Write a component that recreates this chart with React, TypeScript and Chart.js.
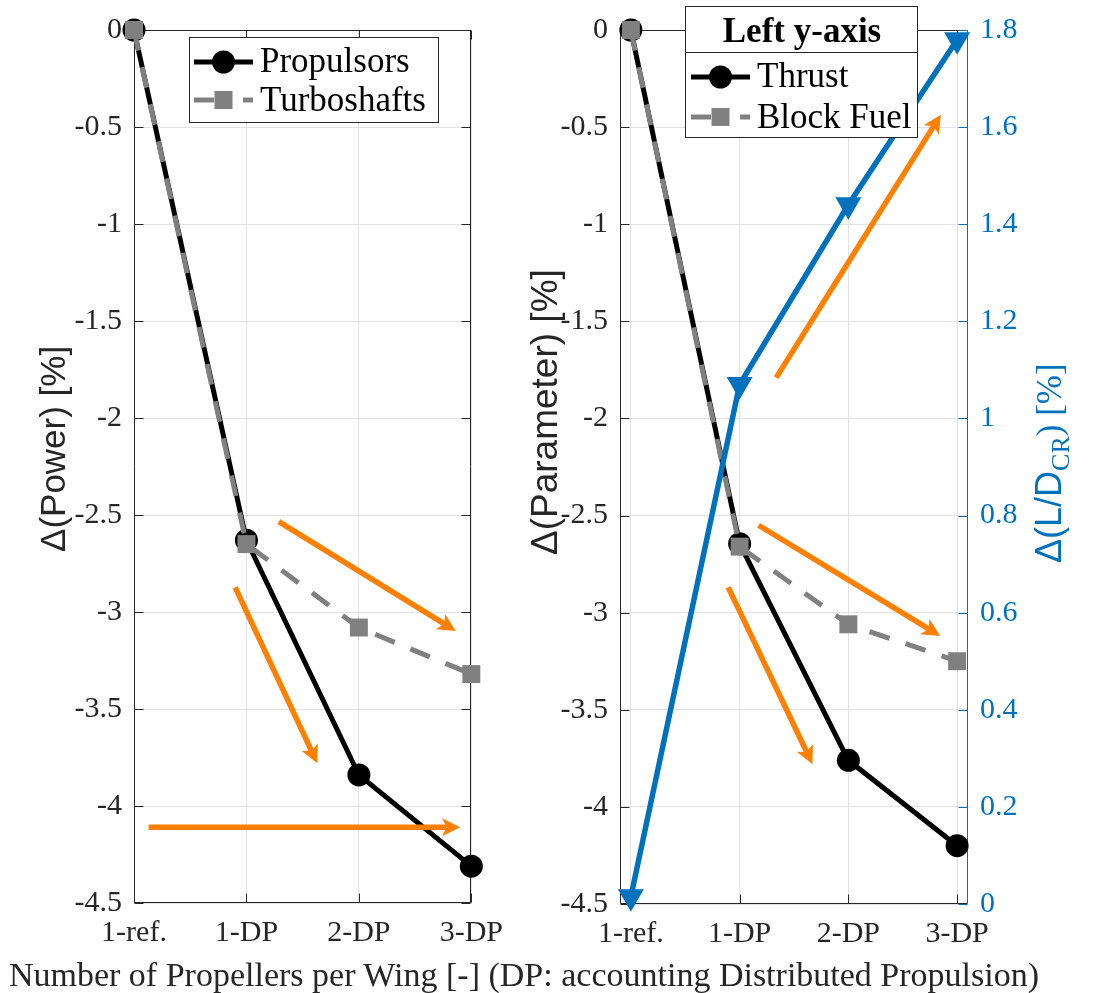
import React, { useEffect, useRef } from "react";
import { Chart, registerables } from "chart.js";

Chart.register(...registerables);

// ---------------- DATA ----------------
const CATEGORIES = ["1-ref.", "1-DP", "2-DP", "3-DP"];
const CATEGORY_POS = [1, 2, 3, 4];

// Left panel: Δ(Power) [%]
const PROPULSORS = [0, -2.63, -3.84, -4.31];
const TURBOSHAFTS = [0, -2.65, -3.08, -3.32];

// Right panel: Δ(Parameter) [%] (left axis) and Δ(L/D_CR) [%] (right axis)
const THRUST = [0, -2.645, -3.76, -4.2];
const BLOCK_FUEL = [0, -2.66, -3.06, -3.25];
const LD_CR = [0.015, 1.07, 1.44, 1.78];

const LEFT_Y_TICKS = [0, -0.5, -1, -1.5, -2, -2.5, -3, -3.5, -4, -4.5];
const RIGHT_Y_TICKS = [0, 0.2, 0.4, 0.6, 0.8, 1, 1.2, 1.4, 1.6, 1.8];

// Annotation arrows in data coordinates: [x0, y0, x1, y1]
const LEFT_ARROWS = [
  [2.288, -2.534, 3.861, -3.098],
  [1.9, -2.873, 2.63, -3.78],
  [1.13, -4.11, 3.9, -4.11],
];
const RIGHT_ARROWS = [
  [2.174, -2.55, 3.844, -3.12],
  [1.895, -2.87, 2.67, -3.78],
  [2.336, -1.79, 3.85, -0.436],
];

// ---------------- STYLE ----------------
const AXIS_COLOR = "#262626";
const GRID_COLOR = "#e2e2e2";
const BLUE = "#0072BD";
const ORANGE = "#FF8000";
const GRAY = "#808080";
const SERIF = '"Liberation Serif", "Times New Roman", serif';
const SANS = '"Liberation Sans", Arial, sans-serif';
const TICK_SIZE = 30;

const fmt = (v: number) => String(Math.round(v * 100) / 100);
const pts = (ys: number[]) => CATEGORY_POS.map((x, i) => ({ x, y: ys[i] }));

// ---------------- PLUGINS ----------------
function makeFramePlugin(rightScaleId: string, rightColor: string) {
  return {
    id: "frame",
    beforeDatasetsDraw(chart: any) {
      const { ctx, chartArea: a, scales } = chart;
      const L = Math.round(a.left) + 0.5;
      const R = Math.round(a.right) - 0.5;
      const T = Math.round(a.top) + 0.5;
      const B = Math.round(a.bottom) - 0.5;
      const tl = 9;
      ctx.save();
      ctx.lineWidth = 1;
      ctx.strokeStyle = AXIS_COLOR;
      ctx.beginPath();
      ctx.moveTo(L, T);
      ctx.lineTo(L, B);
      ctx.lineTo(R, B);
      ctx.moveTo(L, T);
      ctx.lineTo(R, T);
      if (rightScaleId === "y") {
        ctx.moveTo(R, T);
        ctx.lineTo(R, B);
      }
      for (const t of scales.y.ticks) {
        const py = Math.round(scales.y.getPixelForValue(t.value)) + 0.5;
        ctx.moveTo(L, py);
        ctx.lineTo(L + tl, py);
        if (rightScaleId === "y") {
          ctx.moveTo(R, py);
          ctx.lineTo(R - tl, py);
        }
      }
      for (const t of scales.x.ticks) {
        const px = Math.round(scales.x.getPixelForValue(t.value)) + 0.5;
        ctx.moveTo(px, B);
        ctx.lineTo(px, B - tl);
        ctx.moveTo(px, T);
        ctx.lineTo(px, T + tl);
      }
      ctx.stroke();
      if (rightScaleId !== "y") {
        const s = scales[rightScaleId];
        ctx.strokeStyle = rightColor;
        ctx.beginPath();
        ctx.moveTo(R, T);
        ctx.lineTo(R, B);
        for (const t of s.ticks) {
          const py = Math.round(s.getPixelForValue(t.value)) + 0.5;
          ctx.moveTo(R, py);
          ctx.lineTo(R - tl, py);
        }
        ctx.stroke();
      }
      ctx.restore();
    },
  };
}

function makeArrowPlugin(arrows: number[][]) {
  return {
    id: "arrows",
    afterDatasetsDraw(chart: any) {
      const { ctx, scales } = chart;
      const hl = 18;
      const hw = 18;
      ctx.save();
      for (const [x0, y0, x1, y1] of arrows) {
        const p0x = scales.x.getPixelForValue(x0);
        const p0y = scales.y.getPixelForValue(y0);
        const p1x = scales.x.getPixelForValue(x1);
        const p1y = scales.y.getPixelForValue(y1);
        const ang = Math.atan2(p1y - p0y, p1x - p0x);
        const c = Math.cos(ang);
        const s = Math.sin(ang);
        const bx = p1x - hl * c;
        const by = p1y - hl * s;
        const nx = p1x - hl * 0.75 * c;
        const ny = p1y - hl * 0.75 * s;
        ctx.strokeStyle = ORANGE;
        ctx.lineWidth = 5.5;
        ctx.lineCap = "butt";
        ctx.beginPath();
        ctx.moveTo(p0x, p0y);
        ctx.lineTo(nx, ny);
        ctx.stroke();
        ctx.fillStyle = ORANGE;
        ctx.beginPath();
        ctx.moveTo(p1x, p1y);
        ctx.lineTo(bx + (hw / 2) * s, by - (hw / 2) * c);
        ctx.lineTo(nx, ny);
        ctx.lineTo(bx - (hw / 2) * s, by + (hw / 2) * c);
        ctx.closePath();
        ctx.fill();
      }
      ctx.restore();
    },
  };
}

type LegendRow = { ds: number; y: number; base: number; dash?: number[] };
type LegendCfg = {
  box: [number, number, number, number];
  title?: { text: string; x: number; base: number; divider: number };
  rows: LegendRow[];
  sx0: number;
  sx1: number;
  tx: number;
};

function makeLegendPlugin(cfg: LegendCfg) {
  return {
    id: "customLegend",
    afterDraw(chart: any) {
      const { ctx } = chart;
      const [bx, by, bw, bh] = cfg.box;
      ctx.save();
      ctx.fillStyle = "#ffffff";
      ctx.fillRect(bx, by, bw, bh);
      ctx.strokeStyle = AXIS_COLOR;
      ctx.lineWidth = 1;
      ctx.strokeRect(bx + 0.5, by + 0.5, bw - 1, bh - 1);
      ctx.fillStyle = "#000";
      ctx.textBaseline = "alphabetic";
      if (cfg.title) {
        ctx.font = `bold 35px ${SERIF}`;
        ctx.textAlign = "center";
        ctx.fillText(cfg.title.text, cfg.title.x, cfg.title.base);
        ctx.beginPath();
        ctx.moveTo(bx, cfg.title.divider + 0.5);
        ctx.lineTo(bx + bw, cfg.title.divider + 0.5);
        ctx.stroke();
      }
      for (const r of cfg.rows) {
        const d = chart.data.datasets[r.ds];
        const mx = (cfg.sx0 + cfg.sx1) / 2;
        ctx.strokeStyle = d.borderColor;
        ctx.lineWidth = d.borderWidth;
        ctx.setLineDash(r.dash || []);
        ctx.beginPath();
        ctx.moveTo(cfg.sx0, r.y);
        ctx.lineTo(cfg.sx1, r.y);
        ctx.stroke();
        ctx.setLineDash([]);
        ctx.fillStyle = d.backgroundColor;
        if (d.pointStyle === "rect") {
          const h = d.pointRadius * Math.SQRT1_2;
          ctx.fillRect(mx - h, r.y - h, 2 * h, 2 * h);
        } else {
          ctx.beginPath();
          ctx.arc(mx, r.y, d.pointRadius, 0, Math.PI * 2);
          ctx.fill();
        }
        ctx.fillStyle = "#000";
        ctx.font = `35px ${SERIF}`;
        ctx.textAlign = "left";
        ctx.fillText(d.label, cfg.tx, r.base);
      }
      ctx.restore();
    },
  };
}

type TitlePart = { text: string; font: string; dy?: number };
function makeAxisTitlePlugin(items: { x: number; y: number; color: string; parts: TitlePart[] }[]) {
  return {
    id: "axisTitles",
    afterDraw(chart: any) {
      const { ctx } = chart;
      for (const t of items) {
        ctx.save();
        ctx.translate(t.x, t.y);
        ctx.rotate(-Math.PI / 2);
        ctx.fillStyle = t.color;
        ctx.textBaseline = "alphabetic";
        ctx.textAlign = "left";
        let cx = 0;
        for (const p of t.parts) {
          ctx.font = p.font;
          ctx.fillText(p.text, cx, p.dy || 0);
          cx += ctx.measureText(p.text).width;
        }
        ctx.restore();
      }
    },
  };
}

// ---------------- CONFIG BUILDERS ----------------
function xScale(min: number, max: number, height: number) {
  return {
    type: "linear",
    min,
    max,
    afterBuildTicks: (s: any) => {
      s.ticks = CATEGORY_POS.map((v) => ({ value: v }));
    },
    afterFit: (s: any) => {
      s.height = height;
    },
    grid: { color: GRID_COLOR, drawTicks: false },
    border: { display: false },
    ticks: {
      autoSkip: false,
      maxRotation: 0,
      padding: 12,
      color: AXIS_COLOR,
      font: { family: SERIF, size: TICK_SIZE },
      callback: (v: number) => CATEGORIES[CATEGORY_POS.indexOf(v)] ?? "",
    },
  };
}

function yScaleLeft(width: number) {
  return {
    type: "linear",
    position: "left",
    min: -4.5,
    max: 0,
    afterBuildTicks: (s: any) => {
      s.ticks = LEFT_Y_TICKS.map((v) => ({ value: v }));
    },
    afterFit: (s: any) => {
      s.width = width;
    },
    grid: { color: GRID_COLOR, drawTicks: false },
    border: { display: false },
    ticks: {
      padding: 12,
      color: AXIS_COLOR,
      font: { family: SERIF, size: TICK_SIZE },
      callback: (v: number) => fmt(v),
    },
  };
}

function buildLeft(canvas: HTMLCanvasElement) {
  return new Chart(canvas, {
    type: "line",
    data: {
      datasets: [
        {
          label: "Turboshafts",
          data: pts(TURBOSHAFTS),
          borderColor: GRAY,
          backgroundColor: GRAY,
          borderWidth: 5,
          borderDash: [21, 17],
          pointStyle: "rect",
          pointRadius: 12.7,
          pointHoverRadius: 12.7,
          pointBorderWidth: 0,
          order: 0,
          clip: false,
        },
        {
          label: "Propulsors",
          data: pts(PROPULSORS),
          borderColor: "#000000",
          backgroundColor: "#000000",
          borderWidth: 5,
          pointStyle: "circle",
          pointRadius: 11.5,
          pointHoverRadius: 11.5,
          pointBorderWidth: 0,
          order: 1,
          clip: false,
        },
      ],
    } as any,
    options: {
      responsive: false,
      animation: false,
      events: [],
      layout: { padding: { left: 0, right: 34, top: 17, bottom: 0 } },
      scales: {
        x: xScale(1, 4, 90),
        y: yScaleLeft(134),
      } as any,
      plugins: { legend: { display: false }, tooltip: { enabled: false } },
    },
    plugins: [
      makeFramePlugin("y", AXIS_COLOR),
      makeArrowPlugin(LEFT_ARROWS),
      makeLegendPlugin({
        box: [189, 37, 250, 86],
        rows: [
          { ds: 1, y: 62, base: 72 },
          { ds: 0, y: 100, base: 111, dash: [20, 29] },
        ],
        sx0: 194,
        sx1: 253,
        tx: 260,
      }),
      makeAxisTitlePlugin([
        {
          x: 65,
          y: 552,
          color: AXIS_COLOR,
          parts: [{ text: "Δ(Power) [%]", font: `35px ${SANS}` }],
        },
      ]),
    ] as any,
  });
}

function buildRight(canvas: HTMLCanvasElement) {
  return new Chart(canvas, {
    type: "line",
    data: {
      datasets: [
        {
          label: "Δ(L/D_CR)",
          data: pts(LD_CR),
          yAxisID: "y1",
          borderColor: BLUE,
          backgroundColor: BLUE,
          borderWidth: 5.5,
          pointStyle: "triangle",
          pointRotation: 180,
          pointRadius: 15,
          pointHoverRadius: 15,
          pointBorderWidth: 0,
          order: -1,
          clip: false,
        },
        {
          label: "Block Fuel",
          data: pts(BLOCK_FUEL),
          yAxisID: "y",
          borderColor: GRAY,
          backgroundColor: GRAY,
          borderWidth: 5,
          borderDash: [21, 17],
          pointStyle: "rect",
          pointRadius: 12.7,
          pointHoverRadius: 12.7,
          pointBorderWidth: 0,
          order: 0,
          clip: false,
        },
        {
          label: "Thrust",
          data: pts(THRUST),
          yAxisID: "y",
          borderColor: "#000000",
          backgroundColor: "#000000",
          borderWidth: 5,
          pointStyle: "circle",
          pointRadius: 11.5,
          pointHoverRadius: 11.5,
          pointBorderWidth: 0,
          order: 1,
          clip: false,
        },
      ],
    } as any,
    options: {
      responsive: false,
      animation: false,
      events: [],
      layout: { padding: { left: 0, right: 0, top: 17, bottom: 0 } },
      scales: {
        x: xScale(0.9, 4.1, 89),
        y: yScaleLeft(105),
        y1: {
          type: "linear",
          position: "right",
          min: 0,
          max: 1.8,
          afterBuildTicks: (s: any) => {
            s.ticks = RIGHT_Y_TICKS.map((v) => ({ value: v }));
          },
          afterFit: (s: any) => {
            s.width = 126;
          },
          grid: { display: false, drawTicks: false },
          border: { display: false },
          ticks: {
            padding: 12,
            color: BLUE,
            font: { family: SERIF, size: TICK_SIZE },
            callback: (v: number) => fmt(v),
          },
        },
      } as any,
      plugins: { legend: { display: false }, tooltip: { enabled: false } },
    },
    plugins: [
      makeFramePlugin("y1", BLUE),
      makeArrowPlugin(RIGHT_ARROWS),
      makeLegendPlugin({
        box: [170, 6, 233, 132],
        title: { text: "Left y-axis", x: 287, base: 42, divider: 52 },
        rows: [
          { ds: 2, y: 77, base: 87 },
          { ds: 1, y: 117, base: 128, dash: [20, 29] },
        ],
        sx0: 176,
        sx1: 235,
        tx: 242,
      }),
      makeAxisTitlePlugin([
        {
          x: 42,
          y: 555,
          color: AXIS_COLOR,
          parts: [{ text: "Δ(Parameter) [%]", font: `37px ${SANS}` }],
        },
        {
          x: 546,
          y: 563,
          color: BLUE,
          parts: [
            { text: "Δ(L/D", font: `36px ${SANS}` },
            { text: "CR", font: `26px ${SERIF}`, dy: 8 },
            { text: ") [%]", font: `35px ${SERIF}` },
          ],
        },
      ]),
    ] as any,
  });
}

export default function App() {
  const leftRef = useRef<HTMLCanvasElement>(null);
  const rightRef = useRef<HTMLCanvasElement>(null);

  useEffect(() => {
    const l = buildLeft(leftRef.current!);
    const r = buildRight(rightRef.current!);
    return () => {
      l.destroy();
      r.destroy();
    };
  }, []);

  return (
    <div
      style={{
        position: "fixed",
        left: 0,
        top: 0,
        width: 1094,
        height: 993,
        background: "#ffffff",
        overflow: "hidden",
      }}
    >
      <canvas
        ref={leftRef}
        width={515}
        height={993}
        style={{ position: "absolute", left: 0, top: 0 }}
      />
      <canvas
        ref={rightRef}
        width={579}
        height={993}
        style={{ position: "absolute", left: 515, top: 0 }}
      />
      <div
        style={{
          position: "absolute",
          left: 0,
          top: 958,
          width: 1048,
          textAlign: "center",
          fontFamily: SERIF,
          fontSize: 34,
          lineHeight: "34px",
          color: AXIS_COLOR,
          whiteSpace: "nowrap",
        }}
      >
        Number of Propellers per Wing [-] (DP: accounting Distributed Propulsion)
      </div>
    </div>
  );
}
